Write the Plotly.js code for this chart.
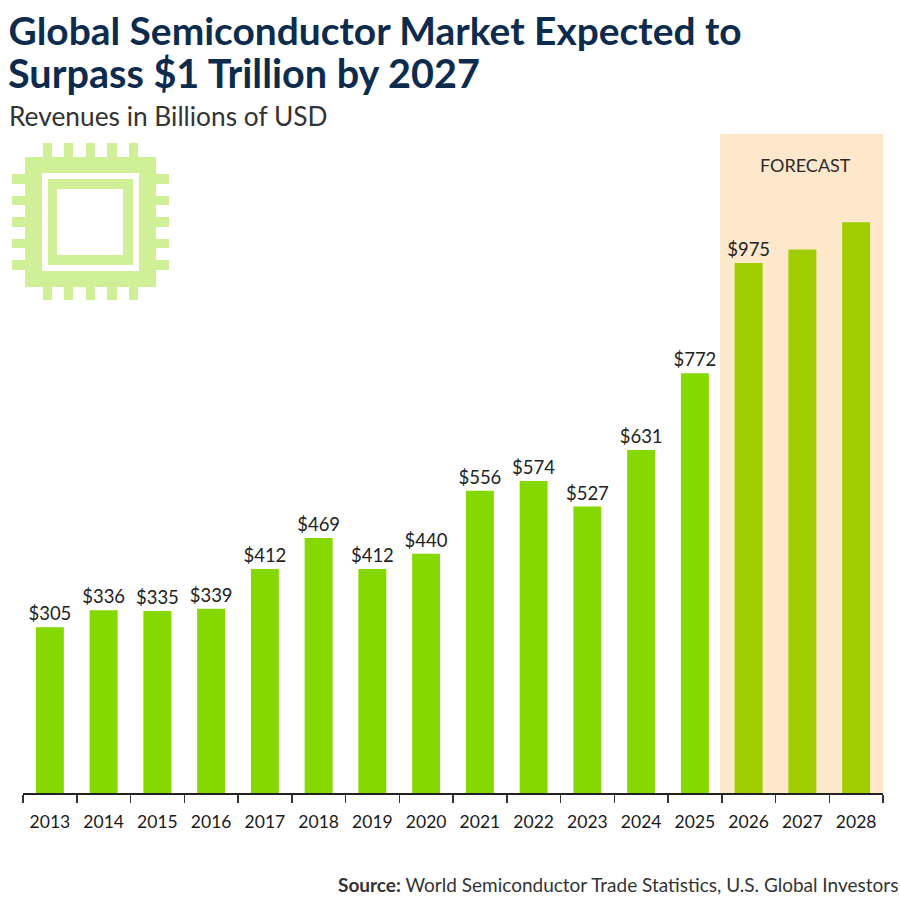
<!DOCTYPE html>
<html><head><meta charset="utf-8">
<script src="https://cdn.plot.ly/plotly-3.0.1.min.js"></script>
<style>html,body{margin:0;padding:0;background:#fff}</style></head>
<body><div id="chart" style="width:900px;height:900px"></div>
<script>
const years=['2013','2014','2015','2016','2017','2018','2019','2020','2021','2022','2023','2024','2025','2026','2027','2028'];
const revenues=[305,336,335,339,412,469,412,440,556,574,527,631,772,975,1000,1050];
const barLabels=['$305','$336','$335','$339','$412','$469','$412','$440','$556','$574','$527','$631','$772','$975','',''];
const actualColor='#86d900', forecastColor='#9fcd00', bandColor='#fee8cc', iconColor='#cff097';
const font='Lato, sans-serif';

const L=23,R=883,T=134,B=793;
const px=x=>(x-L)/(R-L), py=y=>(B-y)/(B-T);
const rect=(x0,y0,x1,y1,c)=>({type:'rect',xref:'paper',yref:'paper',x0:px(x0),x1:px(x1),y0:py(y0),y1:py(y1),fillcolor:c,line:{width:0},layer:'above'});
const shapes=[{type:'rect',xref:'paper',yref:'paper',x0:px(720),x1:1,y0:0,y1:1,fillcolor:bandColor,line:{width:0},layer:'below'}];
[[43,52],[64,73],[86,95],[107,117],[129,138]].forEach(p=>{shapes.push(rect(p[0],143,p[1],157,iconColor));shapes.push(rect(p[0],287,p[1],300,iconColor));});
[[174,184],[196,205],[217,227],[239,248],[260,270]].forEach(p=>{shapes.push(rect(12,p[0],25,p[1],iconColor));shapes.push(rect(156,p[0],169,p[1],iconColor));});
shapes.push(rect(25,157,156,287,iconColor),rect(42,173,139,271,'#fff'),rect(48,179,133,265,iconColor),rect(57,189,123,255,'#fff'));

const trace={type:'bar',x:years,y:revenues,width:0.52,
 marker:{color:years.map((y,i)=>i>=13?forecastColor:actualColor),line:{width:0}},
 text:barLabels,textposition:'outside',constraintext:'none',cliponaxis:false,textangle:0,textfont:{family:font,size:18.5,color:'#222'},hoverinfo:'skip'};
const layout={width:900,height:900,margin:{l:L,r:900-R,t:T,b:900-B},paper_bgcolor:'#fff',plot_bgcolor:'rgba(0,0,0,0)',showlegend:false,
 title:{text:'<b>Global Semiconductor Market Expected to</b>',x:8.5/900,xanchor:'left',y:1-31/900,yanchor:'middle',pad:{l:0,r:0,t:0,b:0},font:{family:font,size:38.9,color:'#0d2c4d'}},
 xaxis:{type:'category',tickson:'boundaries',ticks:'outside',ticklen:8,tickwidth:1.5,tickcolor:'#333',showline:true,linewidth:2,linecolor:'#222',showgrid:false,tickfont:{family:font,size:17.5,color:'#1a1a1a'},ticklabelstandoff:12,automargin:false},
 yaxis:{range:[0,659/0.5436],visible:false,fixedrange:true},
 bargap:0.48,shapes:shapes,
 annotations:[
  {text:'<b>Surpass $1 Trillion by 2027</b>',xref:'paper',yref:'paper',x:px(6),y:py(72),xanchor:'left',yanchor:'middle',showarrow:false,font:{family:font,size:39.6,color:'#0d2c4d'}},
  {text:'Revenues in Billions of USD',xref:'paper',yref:'paper',x:px(7),y:py(116),xanchor:'left',yanchor:'middle',showarrow:false,font:{family:font,size:26.3,color:'#333'}},
  {text:'FORECAST',xref:'paper',yref:'paper',x:px(805),y:py(165),xanchor:'center',yanchor:'middle',showarrow:false,font:{family:font,size:18,color:'#2a2a2a'}},
  {text:'<b>Source:</b> World Semiconductor Trade Statistics, U.S. Global Investors',xref:'paper',yref:'paper',x:px(900),y:py(884),xanchor:'right',yanchor:'middle',showarrow:false,font:{family:font,size:19,color:'#333'}}
 ]};
Plotly.newPlot('chart',[trace],layout,{displayModeBar:false,staticPlot:true});
</script></body></html>
